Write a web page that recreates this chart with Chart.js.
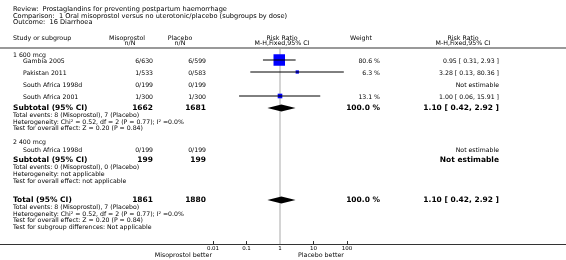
<!DOCTYPE html>
<html>
<head>
<meta charset="utf-8">
<script src="https://cdn.jsdelivr.net/npm/chart.js@4.4.0/dist/chart.umd.min.js"></script>
<style>
html, body { margin: 0; padding: 0; background: #fff; }
canvas { display: block; }
</style>
</head>
<body>
<canvas id="forest" width="566" height="260"></canvas>
<script>
// Datos de los estudios
const studies = ['Gambia 2005', 'Pakistan 2011', 'South Africa 1998d', 'South Africa 2001', 'South Africa 1998d'];
const misoEvents = [6, 1, 0, 1, 0];
const misoTotal = [630, 533, 199, 300, 199];
const placEvents = [6, 0, 0, 1, 0];
const placTotal = [599, 583, 199, 300, 199];
const rr = [0.95, 3.28, null, 1.00, null];
const ciLow = [0.31, 0.13, null, 0.06, null];
const ciHigh = [2.93, 80.36, null, 15.91, null];
const weights = [80.6, 6.3, null, 13.1, null];

// Subgrupos
const subgroups = ['1 600 mcg', '2 400 mcg'];
const subMisoTotal = [1662, 199];
const subPlacTotal = [1681, 199];
const subMisoEvents = [8, 0];
const subPlacEvents = [7, 0];
const subRR = [1.10, null];
const subLow = [0.42, null];
const subHigh = [2.92, null];
const subWeight = [100.0, null];
const subHetero = ['Chi\u00b2 = 0.52, df = 2 (P = 0.77); I\u00b2 =0.0%', 'not applicable'];
const subEffect = ['Z = 0.20 (P = 0.84)', 'not applicable'];

// Total
const totalMiso = 1861;
const totalPlac = 1880;
const totalRR = 1.10;
const totalLow = 0.42;
const totalHigh = 2.92;
const totalWeight = 100.0;

const tickValues = [0.01, 0.1, 1, 10, 100];

// Posiciones de las filas (pixeles)
const studyRowY = [60, 72, 84, 96, 149];
const subHeadY = [55, 142];
const subRowY = [108, 159.5];
const subNoteY = [[115.5, 122, 128.5], [167.5, 174.3, 181]];
const totalY = 200;
const totalNoteY = [207.3, 214, 220.7, 227.3];

const FAM = '"DejaVu Sans"';
const F_TITLE = '6.6px ' + FAM;
const F_HEAD = '6.3px ' + FAM;
const F_ROW = '6.2px ' + FAM;
const F_BOLD = 'bold 7.5px ' + FAM;

const fmt2 = v => v.toFixed(2);
const rrText = (r, lo, hi) => r == null ? 'Not estimable' : fmt2(r) + ' [ ' + fmt2(lo) + ', ' + fmt2(hi) + ' ]';

function txt(ctx, s, x, y, align, font) {
  ctx.font = font;
  ctx.textAlign = align;
  ctx.textBaseline = 'middle';
  ctx.fillStyle = '#000';
  ctx.fillText(s, x, y);
}

function diamond(ctx, xs, ys, r, lo, hi, v) {
  const y = ys.getPixelForValue(v);
  ctx.beginPath();
  ctx.moveTo(xs.getPixelForValue(lo), y);
  ctx.lineTo(xs.getPixelForValue(r), y - 3.5);
  ctx.lineTo(xs.getPixelForValue(hi), y);
  ctx.lineTo(xs.getPixelForValue(r), y + 3.5);
  ctx.closePath();
  ctx.fillStyle = '#000';
  ctx.fill();
}

const forestPlugin = {
  id: 'forest',
  beforeDatasetsDraw(chart) {
    const ctx = chart.ctx;
    const xs = chart.scales.x;
    ctx.save();
    // linea del encabezado
    ctx.fillStyle = '#999';
    ctx.fillRect(0, 47, chart.width, 2);
    // linea de no efecto
    ctx.fillStyle = '#d4d4d4';
    ctx.fillRect(Math.round(xs.getPixelForValue(1)) - 1, 49, 2, xs.top + 3 - 49);
    // eje
    ctx.fillStyle = '#333';
    ctx.fillRect(0, xs.top + 3, chart.width, 1);
    ctx.restore();
  },
  afterDraw(chart) {
    const ctx = chart.ctx;
    const xs = chart.scales.x;
    const ys = chart.scales.y;
    ctx.save();
    for (let g = 0; g < subgroups.length; g++) {
      if (subRR[g] != null) diamond(ctx, xs, ys, subRR[g], subLow[g], subHigh[g], subRowY[g]);
    }
    diamond(ctx, xs, ys, totalRR, totalLow, totalHigh, totalY);

    txt(ctx, 'Review:  Prostaglandins for preventing postpartum haemorrhage', 13, 9.5, 'left', F_TITLE);
    txt(ctx, 'Comparison:  1 Oral misoprostol versus no uterotonic/placebo (subgroups by dose)', 13, 16, 'left', F_TITLE);
    txt(ctx, 'Outcome:  16 Diarrhoea', 13, 22.7, 'left', F_TITLE);

    txt(ctx, 'Study or subgroup', 13, 38, 'left', F_HEAD);
    txt(ctx, 'Misoprostol', 127, 38, 'center', F_HEAD);
    txt(ctx, 'n/N', 130, 43.5, 'center', F_HEAD);
    txt(ctx, 'Placebo', 180, 38, 'center', F_HEAD);
    txt(ctx, 'n/N', 180, 43.5, 'center', F_HEAD);
    txt(ctx, 'Risk Ratio', 282, 38, 'center', F_HEAD);
    txt(ctx, 'M-H,Fixed,95% CI', 282, 43.5, 'center', F_HEAD);
    txt(ctx, 'Weight', 361, 38, 'center', F_HEAD);
    txt(ctx, 'Risk Ratio', 463, 38, 'center', F_HEAD);
    txt(ctx, 'M-H,Fixed,95% CI', 463, 43.5, 'center', F_HEAD);

    for (let g = 0; g < subgroups.length; g++) {
      txt(ctx, subgroups[g], 13, subHeadY[g], 'left', F_ROW);
      const y = subRowY[g] + 0.5;
      txt(ctx, 'Subtotal (95% CI)', 13, y, 'left', F_BOLD);
      txt(ctx, String(subMisoTotal[g]), 153, y, 'right', F_BOLD);
      txt(ctx, String(subPlacTotal[g]), 206, y, 'right', F_BOLD);
      if (subWeight[g] != null) txt(ctx, subWeight[g].toFixed(1) + ' %', 380, y, 'right', F_BOLD);
      txt(ctx, rrText(subRR[g], subLow[g], subHigh[g]), 499, y, 'right', F_BOLD);
      const ny = subNoteY[g];
      txt(ctx, 'Total events: ' + subMisoEvents[g] + ' (Misoprostol), ' + subPlacEvents[g] + ' (Placebo)', 13, ny[0], 'left', F_ROW);
      txt(ctx, 'Heterogeneity: ' + subHetero[g], 13, ny[1], 'left', F_ROW);
      txt(ctx, 'Test for overall effect: ' + subEffect[g], 13, ny[2], 'left', F_ROW);
    }
    for (let i = 0; i < studies.length; i++) {
      const y = studyRowY[i] + 1;
      txt(ctx, studies[i], 23, y, 'left', F_ROW);
      txt(ctx, misoEvents[i] + '/' + misoTotal[i], 153, y, 'right', F_ROW);
      txt(ctx, placEvents[i] + '/' + placTotal[i], 206, y, 'right', F_ROW);
      if (weights[i] != null) txt(ctx, weights[i].toFixed(1) + ' %', 380, y, 'right', F_ROW);
      txt(ctx, rrText(rr[i], ciLow[i], ciHigh[i]), 499, y, 'right', F_ROW);
    }

    const ty = totalY + 0.5;
    txt(ctx, 'Total (95% CI)', 13, ty, 'left', F_BOLD);
    txt(ctx, String(totalMiso), 153, ty, 'right', F_BOLD);
    txt(ctx, String(totalPlac), 206, ty, 'right', F_BOLD);
    txt(ctx, totalWeight.toFixed(1) + ' %', 380, ty, 'right', F_BOLD);
    txt(ctx, rrText(totalRR, totalLow, totalHigh), 499, ty, 'right', F_BOLD);
    txt(ctx, 'Total events: ' + subMisoEvents.reduce((a, b) => a + b, 0) + ' (Misoprostol), ' + subPlacEvents.reduce((a, b) => a + b, 0) + ' (Placebo)', 13, totalNoteY[0], 'left', F_ROW);
    txt(ctx, 'Heterogeneity: ' + subHetero[0], 13, totalNoteY[1], 'left', F_ROW);
    txt(ctx, 'Test for overall effect: ' + subEffect[0], 13, totalNoteY[2], 'left', F_ROW);
    txt(ctx, 'Test for subgroup differences: Not applicable', 13, totalNoteY[3], 'left', F_ROW);

    txt(ctx, 'Misoprostol better', 212, 255, 'right', F_HEAD);
    txt(ctx, 'Placebo better', 298, 255, 'left', F_HEAD);
    ctx.restore();
  }
};

// Lineas de intervalo de confianza
const ciSets = [];
for (let i = 0; i < studies.length; i++) {
  if (rr[i] == null) continue;
  ciSets.push({
    type: 'line',
    data: [{ x: ciLow[i], y: studyRowY[i] }, { x: ciHigh[i], y: studyRowY[i] }],
    borderColor: '#000',
    borderWidth: 1,
    pointRadius: 0
  });
}

// Cuadrados por peso
const sqPoints = [];
const sqRadius = [];
for (let i = 0; i < studies.length; i++) {
  if (rr[i] == null) continue;
  sqPoints.push({ x: rr[i], y: studyRowY[i] });
  const side = Math.max(3.3, 11.5 * Math.sqrt(weights[i] / 80.6));
  sqRadius.push(side / (2 * Math.SQRT1_2));
}

const ctx = document.getElementById('forest');
const forest = new Chart(ctx, {
  type: 'scatter',
  data: {
    datasets: ciSets.concat([{
      type: 'scatter',
      data: sqPoints,
      pointStyle: 'rect',
      pointRadius: sqRadius,
      backgroundColor: '#0000ff',
      borderWidth: 0
    }])
  },
  options: {
    responsive: false,
    animation: false,
    devicePixelRatio: 1,
    layout: { autoPadding: false, padding: { left: 213, right: 219, top: 0, bottom: 0 } },
    plugins: { legend: { display: false }, tooltip: { enabled: false } },
    scales: {
      x: {
        type: 'logarithmic',
        min: 0.01,
        max: 100,
        afterBuildTicks: s => { s.ticks = tickValues.map(v => ({ value: v })); },
        afterFit: s => { s.height = 19; },
        grid: { drawOnChartArea: false, tickLength: 3, color: '#333' },
        border: { display: false },
        ticks: {
          font: { family: 'DejaVu Sans', size: 5.5 },
          color: '#000',
          padding: 1,
          maxRotation: 0,
          autoSkip: false,
          callback: v => String(v)
        }
      },
      y: { type: 'linear', min: 0, max: 241, reverse: true, display: false }
    }
  },
  plugins: [forestPlugin]
});
</script>
</body>
</html>
